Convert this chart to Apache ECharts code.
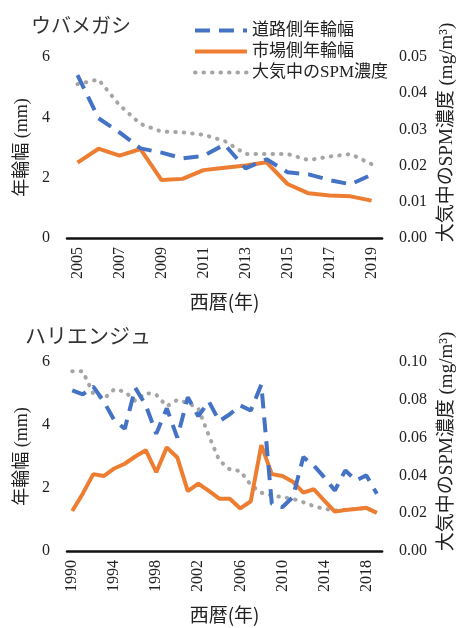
<!DOCTYPE html>
<html>
<head>
<meta charset="utf-8">
<script src="https://cdn.jsdelivr.net/npm/echarts@6/dist/echarts.min.js"></script>
<style>
html, body { margin: 0; padding: 0; background: #fff; }
#main { width: 465px; height: 628px; }
</style>
</head>
<body>
<div id="main"></div>
<script>
// ウバメガシ 2005-2019
const years1 = ['2005', '2006', '2007', '2008', '2009', '2010', '2011', '2012', '2013', '2014', '2015', '2016', '2017', '2018', '2019'];
const road1 = [5.40, 3.97, 3.50, 2.97, 2.83, 2.64, 2.72, 3.10, 2.31, 2.61, 2.18, 2.11, 1.92, 1.78, 2.10];
const market1 = [2.50, 2.96, 2.73, 2.95, 1.92, 1.96, 2.25, 2.33, 2.40, 2.51, 1.79, 1.48, 1.41, 1.38, 1.24];
const spm1 = [0.0425, 0.0438, 0.0367, 0.0315, 0.0294, 0.0292, 0.0285, 0.0268, 0.0232, 0.0232, 0.0232, 0.0215, 0.0225, 0.0232, 0.0204];

// ハリエンジュ 1990-2019
const years2 = ['1990', '1991', '1992', '1993', '1994', '1995', '1996', '1997', '1998', '1999',
  '2000', '2001', '2002', '2003', '2004', '2005', '2006', '2007', '2008', '2009',
  '2010', '2011', '2012', '2013', '2014', '2015', '2016', '2017', '2018', '2019'];
const road2 = [5.10, 4.97, 5.22, 4.75, 4.15, 3.88, 5.18, 4.63, 3.72, 4.53,
  3.60, 4.88, 4.28, 4.75, 4.12, 4.34, 4.62, 4.46, 5.28, 1.50,
  1.39, 1.71, 2.98, 2.71, 2.34, 1.92, 2.56, 2.24, 2.40, 1.82];
const market2 = [1.27, 1.82, 2.44, 2.38, 2.62, 2.77, 3.00, 3.20, 2.50, 3.29,
  2.97, 1.90, 2.14, 1.91, 1.66, 1.66, 1.35, 1.58, 3.36, 2.44,
  2.38, 2.20, 1.85, 1.96, 1.60, 1.25, 1.30, 1.33, 1.37, 1.21];
const spm2 = [0.0951, 0.0951, 0.0832, 0.0805, 0.0856, 0.0843, 0.0794, 0.0836, 0.0827, 0.0766,
  0.0799, 0.0783, 0.0755, 0.0611, 0.0479, 0.0432, 0.0423, 0.0350, 0.0308, 0.0294,
  0.0285, 0.0276, 0.0258, 0.0237, 0.0223, 0.0214, 0.0218, 0.0223, 0.0226, 0.0205];

const names = ['道路側年輪幅', '市場側年輪幅', '大気中のSPM濃度'];
const titles = ['ウバメガシ', 'ハリエンジュ'];

const serif = '"Liberation Serif", "Noto Sans CJK JP", serif';
const jp = '"Noto Sans CJK JP", sans-serif';

const chart = echarts.init(document.getElementById('main'));

function xAxis(idx, data, interval) {
  return {
    type: 'category',
    gridIndex: idx,
    data: data,
    boundaryGap: true,
    name: '西暦(年)',
    nameLocation: 'middle',
    nameGap: 54,
    nameTextStyle: { fontFamily: jp, fontSize: 19, color: '#222' },
    axisLine: { lineStyle: { color: '#111', width: 2.5 } },
    axisTick: { show: false },
    axisLabel: { rotate: 90, interval: interval, margin: 9, fontFamily: serif, fontSize: 16, color: '#222' }
  };
}

function leftAxis(idx) {
  return {
    type: 'value',
    gridIndex: idx,
    min: 0, max: 6, interval: 2,
    name: '年輪幅 (mm)',
    nameLocation: 'middle',
    nameRotate: 90,
    nameGap: 36,
    nameTextStyle: { fontFamily: serif, fontSize: 18, color: '#222' },
    splitLine: { show: false },
    axisLine: { show: false },
    axisTick: { show: false },
    axisLabel: { margin: 17, fontFamily: serif, fontSize: 16, color: '#222' }
  };
}

function rightAxis(idx, max, interval) {
  return {
    type: 'value',
    gridIndex: idx,
    position: 'right',
    min: 0, max: max, interval: interval,
    name: '大気中のSPM濃度 (mg/m³)',
    nameLocation: 'middle',
    nameRotate: 90,
    nameGap: 54,
    nameTextStyle: { fontFamily: serif, fontSize: 19, color: '#222', padding: [0, 0, 0, 30] },
    splitLine: { show: false },
    axisLine: { show: false },
    axisTick: { show: false },
    axisLabel: { margin: 17, fontFamily: serif, fontSize: 16, color: '#222', formatter: v => v.toFixed(2) }
  };
}

const styles = [
  { color: '#4472C4', width: 4, type: [15, 9] },
  { color: '#ED7D31', width: 4 },
  { color: '#A5A5A5', width: 4, type: [0.5, 8], cap: 'round' }
];

function lines(idx, sets) {
  return sets.map((d, k) => ({
    name: names[k],
    type: 'line',
    xAxisIndex: idx,
    yAxisIndex: idx * 2 + (k === 2 ? 1 : 0),
    data: d,
    symbol: 'none',
    z: 3 - k,
    itemStyle: { color: styles[k].color },
    lineStyle: styles[k]
  }));
}

const option = {
  animation: false,
  backgroundColor: '#fff',
  title: [
    { text: titles[0], left: 26, top: 10, textStyle: { fontFamily: jp, fontSize: 20, fontWeight: 'normal', color: '#333' } },
    { text: titles[1], left: 20, top: 320, textStyle: { fontFamily: jp, fontSize: 21, fontWeight: 'normal', color: '#333' } }
  ],
  legend: {
    orient: 'vertical',
    left: 188,
    top: 16,
    itemWidth: 52,
    itemHeight: 12,
    itemGap: 2,
    data: names,
    itemStyle: { opacity: 0 },
    lineStyle: { width: 4 },
    textStyle: { fontFamily: serif, fontSize: 17, color: '#222', lineHeight: 19 }
  },
  grid: [
    { left: 67, right: 77, top: 57, height: 181 },
    { left: 67, right: 78, top: 362, height: 189 }
  ],
  xAxis: [xAxis(0, years1, 1), xAxis(1, years2, 3)],
  yAxis: [leftAxis(0), rightAxis(0, 0.05, 0.01), leftAxis(1), rightAxis(1, 0.10, 0.02)],
  series: lines(0, [road1, market1, spm1]).concat(lines(1, [road2, market2, spm2]))
};

chart.setOption(option);
</script>
</body>
</html>
